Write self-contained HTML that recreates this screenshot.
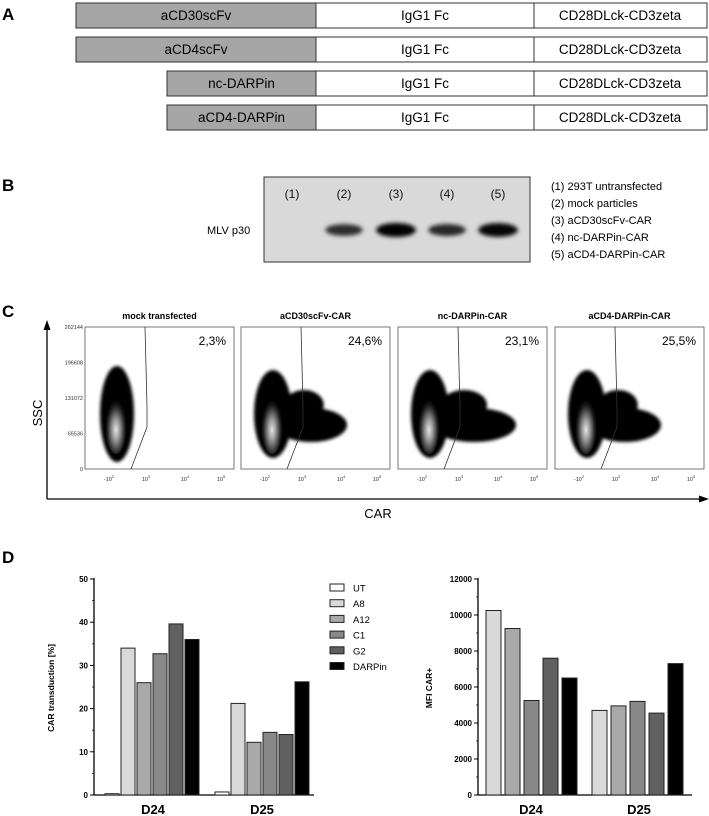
<!DOCTYPE html>
<html><head><meta charset="utf-8"><style>
body{margin:0;background:#fff;font-family:"Liberation Sans",sans-serif;}
#root{position:relative;width:709px;height:816px;overflow:hidden;}
</style></head><body>
<div id="root">
<svg id="svg" width="709" height="816" xmlns="http://www.w3.org/2000/svg" style="position:absolute;left:0;top:0">
<defs>
<filter id="blur" x="-50%" y="-50%" width="200%" height="200%"><feGaussianBlur stdDeviation="1.6"/></filter>
<radialGradient id="core" cx="50%" cy="60%" r="50%"><stop offset="0" stop-color="#fff"/><stop offset="0.35" stop-color="#aaa"/><stop offset="0.8" stop-color="#222"/><stop offset="1" stop-color="#000"/></radialGradient>
<filter id="bandblur" x="-20%" y="-80%" width="140%" height="260%"><feGaussianBlur stdDeviation="2"/></filter>
</defs>
<text x="2" y="20" font-size="17" font-weight="bold">A</text>
<g id="rowsA" font-family="Liberation Sans" font-size="13.5"></g>
<text x="2" y="191" font-size="17" font-weight="bold">B</text>
<rect x="264" y="177" width="266" height="85" fill="#d9d9d9" stroke="#333" stroke-width="1"/>
<g font-size="12" fill="#111" id="laneLabels"></g>
<g id="bands" filter="url(#bandblur)"></g>
<text x="207" y="234" font-size="11">MLV p30</text>
<g id="blotLegend" font-size="11"></g>
<text x="2" y="317" font-size="17" font-weight="bold">C</text>
<line x1="47" y1="499" x2="47" y2="326" stroke="#000" stroke-width="1.3"/>
<polygon points="47,320 43.5,330 50.5,330" fill="#000"/>
<line x1="47" y1="499" x2="702" y2="499" stroke="#000" stroke-width="1.3"/>
<polygon points="709,499 699,495.5 699,502.5" fill="#000"/>
<text x="42" y="413" font-size="13" transform="rotate(-90 42 413)" text-anchor="middle">SSC</text>
<text x="378" y="518" font-size="13" text-anchor="middle">CAR</text>
<g id="flow"></g>
<text x="2" y="563" font-size="17" font-weight="bold">D</text>
<g id="chartL"></g>
<g id="chartR"></g>
<g id="legendD"></g>
</svg>
</div>
<script>
const categories = ["D24", "D25"];
const seriesNames = ["UT", "A8", "A12", "C1", "G2", "DARPin"];
const seriesColors = ["#ffffff", "#d9d9d9", "#a9a9a9", "#888888", "#606060", "#000000"];
const transD24 = [0.3, 34, 26, 32.7, 39.6, 36];
const transD25 = [0.7, 21.2, 12.2, 14.5, 14, 26.2];
const mfiNames = ["A8", "A12", "C1", "G2", "DARPin"];
const mfiD24 = [10250, 9250, 5250, 7600, 6500];
const mfiD25 = [4700, 4950, 5200, 4550, 7300];
const transTicks = [0, 10, 20, 30, 40, 50];
const mfiTicks = [0, 2000, 4000, 6000, 8000, 10000, 12000];
const constructs = ["aCD30scFv", "aCD4scFv", "nc-DARPin", "aCD4-DARPin"];
const laneNames = ["(1)", "(2)", "(3)", "(4)", "(5)"];
const bandIntensity = [0, 0.55, 1, 0.6, 0.95];
const blotLegendItems = ["(1)  293T untransfected", "(2)  mock particles", "(3)  aCD30scFv-CAR", "(4)  nc-DARPin-CAR", "(5)  aCD4-DARPin-CAR"];
const flowTitles = ["mock transfected", "aCD30scFv-CAR", "nc-DARPin-CAR", "aCD4-DARPin-CAR"];
const flowPercents = ["2,3%", "24,6%", "23,1%", "25,5%"];
const sscTicks = ["262144", "196608", "131072", "65536", "0"];

const NS = "http://www.w3.org/2000/svg";
function mk(tag, attrs, parent, txt) {
  const e = document.createElementNS(NS, tag);
  for (const k in attrs) e.setAttribute(k, attrs[k]);
  if (txt !== undefined) e.textContent = txt;
  parent.appendChild(e);
  return e;
}

const rowsA = document.getElementById('rowsA');
const rowY = [3, 37, 71, 105], rowH = 25;
constructs.forEach((c, i) => {
  const g = mk('g', {}, rowsA);
  
  
  const x0 = i < 2 ? 76 : 167;
  const r1 = mk('rect', {x: x0, y: rowY[i], width: 316 - x0, height: rowH, fill: '#a6a6a6', stroke: '#333'}, g);
  
  
  const r2 = mk('rect', {x: 316, y: rowY[i], width: 218, height: rowH, fill: '#fff', stroke: '#333'}, g);
  
  
  const r3 = mk('rect', {x: 534, y: rowY[i], width: 173, height: rowH, fill: '#fff', stroke: '#333'}, g);
  
  
  mk('text', {x: (x0 + 316) / 2, y: rowY[i] + 17, 'text-anchor': 'middle'}, g, c);
  mk('text', {x: 425, y: rowY[i] + 17, 'text-anchor': 'middle'}, g, 'IgG1 Fc');
  mk('text', {x: 620, y: rowY[i] + 17, 'text-anchor': 'middle'}, g, 'CD28DLck-CD3zeta');
});

const laneX = [292, 344, 396, 447, 498];
const laneG = document.getElementById('laneLabels');
const bandsG = document.getElementById('bands');
laneNames.forEach((n, i) => {
  const t = mk('text', {x: laneX[i], y: 198, 'text-anchor': 'middle'}, laneG, n);
  
  
  if (bandIntensity[i] > 0) {
    const v = bandIntensity[i];
    const b = mk('ellipse', {cx: laneX[i], cy: 230, rx: 17 + v * 3, ry: 4.5 + v * 2.5, fill: '#000', opacity: 0.55 + 0.45 * v}, bandsG);
    
    
  }
});
const blotLeg = document.getElementById('blotLegend');
blotLegendItems.forEach((s, i) => {
  const t = mk('text', {x: 551, y: 190 + i * 17}, blotLeg, s);
  
  
});

const flow = document.getElementById('flow');
const plotX = [85, 241, 398, 555], plotW = 149, plotT = 327, plotB = 469;
flowTitles.forEach((title, i) => {
  const g = mk('g', {}, flow);
  
  
  const x = plotX[i];
  mk('text', {x: x + plotW / 2, y: 319, 'text-anchor': 'middle', 'font-size': 9, 'font-weight': 'bold'}, g, title);
  mk('rect', {x: x, y: plotT, width: plotW, height: plotB - plotT, fill: '#fff', stroke: '#555', 'stroke-width': 0.8}, g);
  const cl = mk('g', {filter: 'url(#blur)'}, g);
  if (i > 0) {
    const tw = i === 2 ? 42 : 36;
    mk('ellipse', {cx: x + 34 + tw, cy: 425, rx: tw, ry: 17, fill: '#000'}, cl);
    mk('ellipse', {cx: x + 45 + tw * 0.5, cy: 405, rx: tw * 0.55, ry: 15, fill: '#000'}, cl);
  }
  mk('ellipse', {cx: x + 32, cy: 414, rx: i === 0 ? 17 : 19, ry: i === 0 ? 48 : 44, fill: '#000'}, cl);
  mk('ellipse', {cx: x + 31, cy: 424, rx: 11, ry: 30, fill: 'url(#core)', opacity: 0.9}, g);
  mk('polyline', {points: `${x + 60},${plotT} ${x + 62},${plotT + 80} ${x + 62},${plotT + 100} ${x + 46},${plotB}`, fill: 'none', stroke: '#333', 'stroke-width': 0.8}, g);
  mk('text', {x: x + 141, y: 345, 'text-anchor': 'end', 'font-size': 12}, g, flowPercents[i]);
  [["-10", 24], ["10", 61], ["10", 100], ["10", 136]].forEach((tk, j) => {
    const sup = ["2", "3", "4", "5"][j];
    const tt = mk('text', {x: x + tk[1], y: 481, 'text-anchor': 'middle', 'font-size': 5.5, fill: '#333'}, g, tk[0]);
    mk('tspan', {dy: -3, 'font-size': 4}, tt, sup);
  });
  if (i === 0) {
    sscTicks.forEach((s, j) => {
      mk('text', {x: x - 2, y: plotT + 2 + j * (plotB - plotT) / 4, 'text-anchor': 'end', 'font-size': 5.5, fill: '#333'}, g, s);
    });
  }
});

function barChart(gid, ax, series, cols, groupStarts, step, bw, ticks, maxV, ylab, labX, names) {
  const g = document.getElementById(gid);
  const y0 = 795, yTop = 579;
  const ys = v => y0 - (v / maxV) * (y0 - yTop);
  mk('line', {x1: ax.x, y1: yTop - 1, x2: ax.x, y2: y0, stroke: '#000', 'stroke-width': 1.3}, g);
  mk('line', {x1: ax.x, y1: y0, x2: ax.xEnd, y2: y0, stroke: '#000', 'stroke-width': 1.3}, g);
  ticks.forEach(t => {
    mk('line', {x1: ax.x - 4, y1: ys(t), x2: ax.x, y2: ys(t), stroke: '#000'}, g);
    const mid = ys(t + (ticks[1] - ticks[0]) / 2);
    if (t < maxV) mk('line', {x1: ax.x - 2, y1: mid, x2: ax.x, y2: mid, stroke: '#000', 'stroke-width': 0.7}, g);
    const tl = mk('text', {x: ax.x - 6, y: ys(t) + 3, 'text-anchor': 'end', 'font-size': 8, 'font-weight': 'bold'}, g, String(t));
    
    
  });
  series.forEach((vals, gi) => {
    vals.forEach((v, si) => {
      const x = groupStarts[gi] + si * step;
      const r = mk('rect', {x: x, y: ys(v), width: bw, height: y0 - ys(v), fill: cols[si], stroke: '#222', 'stroke-width': 1}, g);
      
      
    });
    const cl = mk('text', {x: labX[gi], y: 814, 'text-anchor': 'middle', 'font-size': 13, 'font-weight': 'bold'}, g, categories[gi]);
    
    
  });
  const yl = mk('text', {x: ax.lx, y: 688, 'text-anchor': 'middle', 'font-size': 8.5, 'font-weight': 'bold', transform: `rotate(-90 ${ax.lx} 688)`}, g, ylab);
  
  
}
barChart('chartL', {x: 94, xEnd: 314, lx: 54}, [transD24, transD25], seriesColors, [105, 215], 16, 14, transTicks, 50, 'CAR transduction [%]', [153, 262], seriesNames);
barChart('chartR', {x: 478, xEnd: 692, lx: 432}, [mfiD24, mfiD25], seriesColors.slice(1), [486, 592], 19, 15, mfiTicks, 12000, 'MFI CAR+', [531, 639], mfiNames);

const legD = document.getElementById('legendD');
seriesNames.forEach((n, i) => {
  const y = 584 + i * 15.7;
  const r = mk('rect', {x: 330, y: y, width: 14, height: 7, fill: seriesColors[i], stroke: '#222', 'stroke-width': 1}, legD);
  
  
  const t = mk('text', {x: 353, y: y + 7.5, 'font-size': 9.5}, legD, n);
  
  
});
</script>
</body></html>
